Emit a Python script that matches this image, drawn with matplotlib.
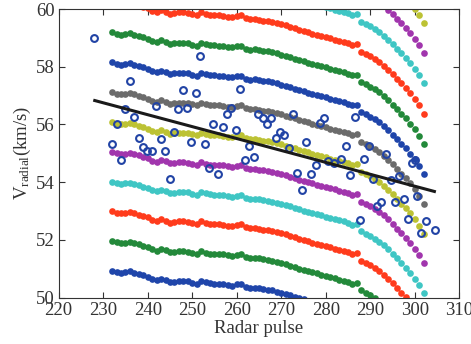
import matplotlib
matplotlib.use("Agg")
import matplotlib.pyplot as plt
import numpy as np

plt.rcParams['font.family'] = ['Liberation Serif', 'DejaVu Serif']
plt.rcParams['mathtext.fontset'] = 'stix'

# radar pulse index of the curve samples
pulse = list(range(232, 303))
# shared shape of every curve: change of velocity from its first sample (km/s)
dv = [0.00, -0.05, -0.08, -0.06, -0.03, -0.08, -0.12, -0.17, -0.22, -0.30,
      -0.34, -0.28, -0.33, -0.40, -0.38, -0.36, -0.36, -0.37, -0.42, -0.46,
      -0.36, -0.41, -0.44, -0.45, -0.46, -0.47, -0.50, -0.52, -0.48, -0.46,
      -0.56, -0.60, -0.59, -0.61, -0.64, -0.66, -0.69, -0.73, -0.77, -0.81,
      -0.86, -0.91, -0.96, -1.00, -1.05, -1.09, -1.13, -1.17, -1.21, -1.26,
      -1.30, -1.34, -1.38, -1.43, -1.49, -1.46,
      -1.72, -1.80, -1.88, -1.97, -2.08, -2.20, -2.34, -2.50, -2.66, -2.82,
      -2.98, -3.16, -3.36, -3.58, -3.86]

# starting velocity of each curve (km/s), bottom to top
v_start = [50.94, 51.97, 53.00, 54.02, 55.05, 56.08, 57.12, 58.15, 59.19,
           60.24, 61.28, 62.32, 63.36]
band_colors = ['#1f45aa', '#23893a', '#ff3b1c', '#3fc6c4', '#a135ad',
               '#bcc234', '#6b6b6b']

# measured radial velocities (open circles)
obs_pulse = [228.0, 251.8, 236.0, 247.9, 250.9, 260.8, 234.9, 241.9, 246.8, 248.9,
             236.9, 233.0, 254.7, 256.8, 259.8, 257.7, 258.7, 264.7, 265.8, 267.7,
             266.7, 272.6, 278.8, 279.6, 286.5, 245.8, 238.0, 242.9, 249.8, 252.8,
             231.9, 238.9, 239.8, 240.9, 243.8, 233.9, 253.8, 255.7, 244.9, 269.7,
             270.6, 268.8, 275.6, 262.8, 271.7, 261.8, 263.8, 277.7, 280.6, 281.9,
             283.5, 273.6, 276.7, 274.7, 284.6, 289.6, 288.5, 293.5, 285.5, 290.5,
             294.6, 296.5, 299.4, 300.1, 297.5, 295.6, 292.5, 291.5, 300.5, 287.6,
             298.5, 302.5, 301.5, 304.5]
obs_v = [59.00, 58.37, 57.52, 57.19, 57.10, 57.23, 56.53, 56.64, 56.52, 56.57,
         56.25, 56.00, 56.00, 55.90, 55.81, 56.38, 56.56, 56.35, 56.23, 56.23,
         56.00, 56.37, 56.06, 56.21, 56.27, 55.75, 55.54, 55.49, 55.38, 55.34,
         55.31, 55.23, 55.08, 55.09, 55.09, 54.77, 54.48, 54.30, 54.10, 55.73,
         55.65, 55.53, 55.40, 55.26, 55.18, 54.76, 54.87, 54.61, 54.75, 54.66,
         54.82, 54.33, 54.29, 53.72, 55.25, 55.25, 54.82, 54.98, 54.26, 54.12,
         54.07, 54.23, 54.65, 54.77, 53.42, 53.30, 53.32, 53.17, 53.51, 52.69,
         52.71, 52.66, 52.24, 52.36]

# fitted trend line end points
fit_pulse = [228.1, 304.4]
fit_v = [56.83, 53.68]

fig = plt.figure(figsize=(4.71, 3.44), dpi=100)
ax = fig.add_axes([0.1246, 0.1346, 0.8506, 0.8392])

for k, v0 in enumerate(v_start):
    vals = v0 + np.array(dv)
    ax.plot(pulse, vals, 'o', color=band_colors[k % 7], markersize=4.8,
            markeredgewidth=0, zorder=2)

ax.plot(obs_pulse, obs_v, 'o', markerfacecolor='none', markeredgecolor='#2143a5',
        markersize=4.9, markeredgewidth=1.5, zorder=3)
ax.plot(fit_pulse, fit_v, '-', color='#1a1a1a', linewidth=2.2, zorder=4)

ax.set_xlim(220, 310)
ax.set_ylim(50, 60)
ax.set_xticks(range(220, 311, 10))
ax.set_yticks(range(50, 61, 2))
ax.tick_params(direction='in', length=4, width=0.8, top=True, right=True,
               labelsize=13.5, colors='#333333', pad=3)
for s in ax.spines.values():
    s.set_color('#333333')
    s.set_linewidth(0.8)

ax.set_xlabel('Radar pulse', fontsize=13.5, color='#333333', labelpad=1)
ax.set_ylabel(r'$\mathregular{V_{radial}}$(km/s)', fontsize=13.5, color='#333333',
              labelpad=2)

fig.savefig('out.png', dpi=100)
